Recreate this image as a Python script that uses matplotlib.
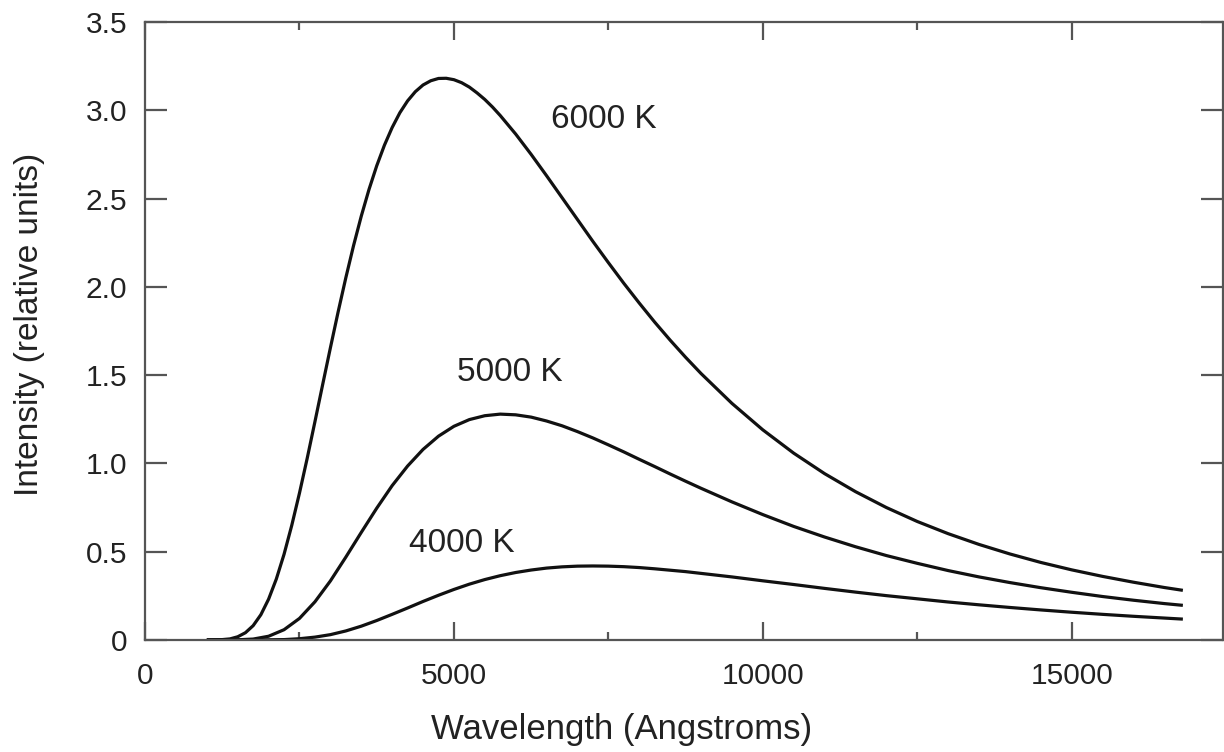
import matplotlib.pyplot as plt
from matplotlib.ticker import MultipleLocator, FixedLocator

plt.rcParams['font.family'] = ['Liberation Sans', 'DejaVu Sans']

# Wavelength grid (Angstroms) for the 5000 K and 4000 K curves
wavelength = [1000, 1250, 1500, 1750, 2000, 2250, 2500, 2750, 3000, 3250,
              3500, 3750, 4000, 4250, 4500, 4750, 5000, 5250, 5500, 5750,
              6000, 6250, 6500, 6750, 7000, 7250, 7500, 7750, 8000, 8250,
              8500, 8750, 9000, 9500, 10000, 10500, 11000, 11500, 12000, 12500,
              13000, 13500, 14000, 14500, 15000, 15500, 16000, 16500, 16800]

# finer steps on the steep part of the 6000 K curve
wavelength_6000 = [1000, 1250, 1375, 1500, 1625, 1750, 1875, 2000, 2125, 2250,
                   2375, 2500, 2625, 2750, 2875, 3000, 3125, 3250, 3375, 3500,
                   3625, 3750, 3875, 4000, 4125, 4250, 4375, 4500, 4625, 4750,
                   4875, 5000, 5125, 5250, 5375, 5500, 5625, 5750,
                   6000, 6250, 6500, 6750, 7000, 7250, 7500, 7750, 8000, 8250,
                   8500, 8750, 9000, 9500, 10000, 10500, 11000, 11500, 12000, 12500,
                   13000, 13500, 14000, 14500, 15000, 15500, 16000, 16500, 16800]

# Intensity of each blackbody curve (relative units)
i_6000 = [0.000, 0.002, 0.006, 0.018, 0.041, 0.081, 0.143, 0.231, 0.345, 0.485,
          0.649, 0.832, 1.029, 1.236, 1.446, 1.654, 1.857, 2.051, 2.233, 2.400,
          2.551, 2.685, 2.802, 2.902, 2.986, 3.053, 3.105, 3.143, 3.167, 3.180,
          3.181, 3.173, 3.156, 3.131, 3.098, 3.061, 3.018, 2.970,
          2.865, 2.750, 2.629, 2.505, 2.381, 2.257, 2.137, 2.020, 1.908, 1.800,
          1.698, 1.601, 1.509, 1.340, 1.190, 1.058, 0.942, 0.840, 0.750, 0.671,
          0.602, 0.541, 0.487, 0.439, 0.397, 0.360, 0.327, 0.297, 0.281]
i_5000 = [0.000, 0.000, 0.001, 0.005, 0.021, 0.058, 0.122, 0.216, 0.334, 0.469,
          0.609, 0.746, 0.874, 0.985, 1.079, 1.154, 1.210, 1.248, 1.270, 1.279,
          1.275, 1.262, 1.240, 1.213, 1.180, 1.144, 1.105, 1.065, 1.023, 0.982,
          0.940, 0.899, 0.859, 0.782, 0.710, 0.643, 0.583, 0.528, 0.478, 0.434,
          0.393, 0.357, 0.325, 0.296, 0.270, 0.246, 0.225, 0.206, 0.196]
i_4000 = [0.000, 0.000, 0.000, 0.000, 0.001, 0.002, 0.007, 0.016, 0.030, 0.051,
          0.078, 0.110, 0.145, 0.181, 0.218, 0.253, 0.286, 0.316, 0.342, 0.364,
          0.382, 0.396, 0.407, 0.414, 0.418, 0.419, 0.418, 0.415, 0.410, 0.403,
          0.395, 0.387, 0.377, 0.357, 0.335, 0.314, 0.292, 0.271, 0.251, 0.233,
          0.215, 0.199, 0.184, 0.170, 0.157, 0.145, 0.134, 0.124, 0.118]

curve_labels = ["6000 K", "5000 K", "4000 K"]
label_x = [7430, 5900, 5120]
label_y = [2.95, 1.515, 0.545]

y_ticks = [0, 0.5, 1.0, 1.5, 2.0, 2.5, 3.0, 3.5]
y_ticklabels = ["0", "0.5", "1.0", "1.5", "2.0", "2.5", "3.0", "3.5"]

fig = plt.figure(figsize=(12.24, 7.52), dpi=100)
ax = fig.add_axes([0.1185, 0.149, 0.8807, 0.8218])

curves = [(wavelength_6000, i_6000), (wavelength, i_5000), (wavelength, i_4000)]
for wl, vals in curves:
    ax.plot(wl, vals, color='#111111', lw=2.3,
            solid_capstyle='butt', solid_joinstyle='round')

for lab, lx, ly in zip(curve_labels, label_x, label_y):
    ax.text(lx, ly, lab, fontsize=24, color='#222222', ha='center', va='center')

ax.set_xlim(0, 17450)
ax.set_ylim(0, 3.5)
ax.xaxis.set_major_locator(MultipleLocator(5000))
ax.xaxis.set_minor_locator(MultipleLocator(2500))
ax.yaxis.set_major_locator(FixedLocator(y_ticks))
ax.set_yticklabels(y_ticklabels)

for s in ax.spines.values():
    s.set_color('#555555')
    s.set_linewidth(1.6)

ax.tick_params(axis='both', which='both', direction='in', top=True, right=True,
               colors='#555555', labelcolor='#222222', labelsize=21.5)
ax.tick_params(axis='x', which='major', length=13, width=1.6, pad=16)
ax.tick_params(axis='x', which='minor', length=6, width=1.6)
ax.tick_params(axis='y', which='major', length=16, width=1.6, pad=13)

ax.set_xlabel("Wavelength (Angstroms)", fontsize=25, color='#222222')
ax.set_ylabel("Intensity (relative units)", fontsize=24, color='#222222')
ax.xaxis.set_label_coords(0.4425, -0.118)
ax.yaxis.set_label_coords(-0.093, 0.51)

fig.savefig("out.png", dpi=100)
